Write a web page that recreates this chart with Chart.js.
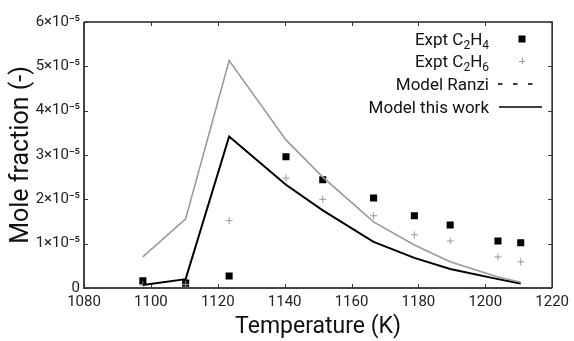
<!DOCTYPE html>
<html>
<head>
<meta charset="utf-8">
<script src="https://cdn.jsdelivr.net/npm/chart.js@4"></script>
<style>
  html, body { margin: 0; padding: 0; background: #fff; }
  #wrap { width: 574px; height: 341px; }
</style>
</head>
<body>
<div id="wrap"><canvas id="chart" width="574" height="341"></canvas></div>
<script>
// temperatures (K) of the experiment / model points
const temps = [1097.6, 1110.4, 1123.4, 1140.4, 1151.4, 1166.6, 1178.8, 1189.5, 1203.8, 1210.6];
// mole fractions in units of 1e-5
const exptC2H4 = [0.16, 0.11, 0.27, 2.96, 2.44, 2.03, 1.63, 1.42, 1.06, 1.02];
const exptC2H6 = [0.07, 0.08, 1.52, 2.48, 2.00, 1.63, 1.20, 1.06, 0.70, 0.59];
const modelRanzi = [0.70, 1.56, 5.13, 3.34, 2.50, 1.49, 0.97, 0.59, 0.25, 0.13];
const modelThisWork = [0.07, 0.20, 3.42, 2.33, 1.75, 1.04, 0.68, 0.43, 0.20, 0.10];

const xTicks = [1080, 1100, 1120, 1140, 1160, 1180, 1200, 1220];
const yTicks = [0, 1, 2, 3, 4, 5, 6];
const yTickLabels = ['0', '1×10⁻⁵', '2×10⁻⁵', '3×10⁻⁵', '4×10⁻⁵', '5×10⁻⁵', '6×10⁻⁵'];

const legendLabels = [
  [['Expt C', 0], ['2', 1], ['H', 0], ['4', 1]],
  [['Expt C', 0], ['2', 1], ['H', 0], ['6', 1]],
  [['Model Ranzi', 0]],
  [['Model this work', 0]]
];

const FONT = 'Roboto, "DejaVu Sans", sans-serif';

const toPoints = (ys) => temps.map((t, i) => ({ x: t, y: ys[i] }));

// frame, inward ticks on all sides, and the legend
const framePlugin = {
  id: 'frame',
  afterDraw(chart) {
    const { ctx, chartArea: a, scales } = chart;
    ctx.save();
    // top + right
    ctx.strokeStyle = '#222';
    ctx.lineWidth = 1.5;
    ctx.beginPath();
    ctx.moveTo(a.left, a.top);
    ctx.lineTo(a.right, a.top);
    ctx.lineTo(a.right, a.bottom);
    ctx.stroke();
    // left + bottom
    ctx.strokeStyle = '#444';
    ctx.lineWidth = 2;
    ctx.beginPath();
    ctx.moveTo(a.left, a.top);
    ctx.lineTo(a.left, a.bottom);
    ctx.lineTo(a.right, a.bottom);
    ctx.stroke();

    ctx.lineWidth = 1;
    ctx.strokeStyle = '#333';
    const tl = 4;
    ctx.beginPath();
    xTicks.forEach(v => {
      const x = Math.round(scales.x.getPixelForValue(v)) + 0.5;
      ctx.moveTo(x, a.bottom); ctx.lineTo(x, a.bottom - tl);
      ctx.moveTo(x, a.top); ctx.lineTo(x, a.top + tl);
    });
    yTicks.forEach(v => {
      const y = Math.round(scales.y.getPixelForValue(v)) + 0.5;
      ctx.moveTo(a.left, y); ctx.lineTo(a.left + tl, y);
      ctx.moveTo(a.right, y); ctx.lineTo(a.right - tl, y);
    });
    ctx.stroke();

    // legend
    const textRight = 489;
    const symX = 522;
    const baselines = [45, 67, 90, 113];
    const mainSize = 17, subSize = 12;
    ctx.fillStyle = '#111';
    ctx.textBaseline = 'alphabetic';
    ctx.textAlign = 'left';
    legendLabels.forEach((parts, i) => {
      let w = 0;
      parts.forEach(([t, sub]) => {
        ctx.font = (sub ? subSize : mainSize) + 'px ' + FONT;
        w += ctx.measureText(t).width;
      });
      let x = textRight - w;
      parts.forEach(([t, sub]) => {
        ctx.font = (sub ? subSize : mainSize) + 'px ' + FONT;
        ctx.fillText(t, x, baselines[i] + (sub ? 4 : 0));
        x += ctx.measureText(t).width;
      });
    });
    const cy = baselines.map(b => b - 6);
    ctx.fillStyle = '#000';
    ctx.fillRect(symX - 3.5, cy[0] - 3.5, 7, 7);
    ctx.strokeStyle = '#999';
    ctx.lineWidth = 1;
    ctx.beginPath();
    ctx.moveTo(symX - 3, cy[1] + 0.5); ctx.lineTo(symX + 3, cy[1] + 0.5);
    ctx.moveTo(symX + 0.5, cy[1] - 3); ctx.lineTo(symX + 0.5, cy[1] + 3);
    ctx.stroke();
    ctx.strokeStyle = '#000';
    ctx.lineWidth = 1.5;
    ctx.setLineDash([4.5, 10.5]);
    ctx.beginPath();
    ctx.moveTo(498, cy[2]); ctx.lineTo(535, cy[2]);
    ctx.stroke();
    ctx.setLineDash([]);
    ctx.beginPath();
    ctx.moveTo(499, cy[3]); ctx.lineTo(542, cy[3]);
    ctx.stroke();
    ctx.restore();
  }
};

new Chart(document.getElementById('chart'), {
  type: 'scatter',
  data: {
    datasets: [
      {
        label: 'Model Ranzi',
        data: toPoints(modelRanzi),
        showLine: true,
        borderColor: '#9a9a9a',
        borderWidth: 1.6,
        pointRadius: 0,
        tension: 0
      },
      {
        label: 'Model this work',
        data: toPoints(modelThisWork),
        showLine: true,
        borderColor: '#000',
        borderWidth: 2,
        pointRadius: 0,
        tension: 0
      },
      {
        label: 'Expt C2H6',
        data: toPoints(exptC2H6),
        pointStyle: 'cross',
        pointRadius: 3.5,
        borderColor: '#999',
        borderWidth: 1
      },
      {
        label: 'Expt C2H4',
        data: toPoints(exptC2H4),
        pointStyle: 'rect',
        pointRadius: 5,
        backgroundColor: '#000',
        borderColor: '#000',
        borderWidth: 0
      }
    ]
  },
  options: {
    responsive: false,
    animation: false,
    layout: { padding: { top: 22, right: 18, left: 0, bottom: 0 } },
    plugins: { legend: { display: false }, tooltip: { enabled: false } },
    scales: {
      x: {
        type: 'linear',
        min: 1080,
        max: 1220,
        afterFit: (s) => { s.height = 53; },
        afterBuildTicks: (s) => { s.ticks = xTicks.map(v => ({ value: v })); },
        grid: { drawOnChartArea: false, drawTicks: false },
        border: { display: false },
        ticks: {
          padding: 5,
          color: '#222',
          font: { family: FONT, size: 15 },
          callback: (v) => String(v)
        },
        title: {
          display: true,
          text: 'Temperature (K)',
          color: '#111',
          font: { family: FONT, size: 23 },
          padding: { top: 0, bottom: 0 }
        }
      },
      y: {
        min: 0,
        max: 6,
        afterFit: (s) => { s.width = 84; },
        afterBuildTicks: (s) => { s.ticks = yTicks.map(v => ({ value: v })); },
        grid: { drawOnChartArea: false, drawTicks: false },
        border: { display: false },
        ticks: {
          padding: 4,
          color: '#222',
          font: { family: FONT, size: 15 },
          callback: (v) => yTickLabels[yTicks.indexOf(v)]
        },
        title: {
          display: true,
          text: 'Mole fraction (-)',
          color: '#111',
          font: { family: FONT, size: 25 },
          padding: { top: 7, bottom: 0 }
        }
      }
    }
  },
  plugins: [framePlugin]
});
</script>
</body>
</html>
